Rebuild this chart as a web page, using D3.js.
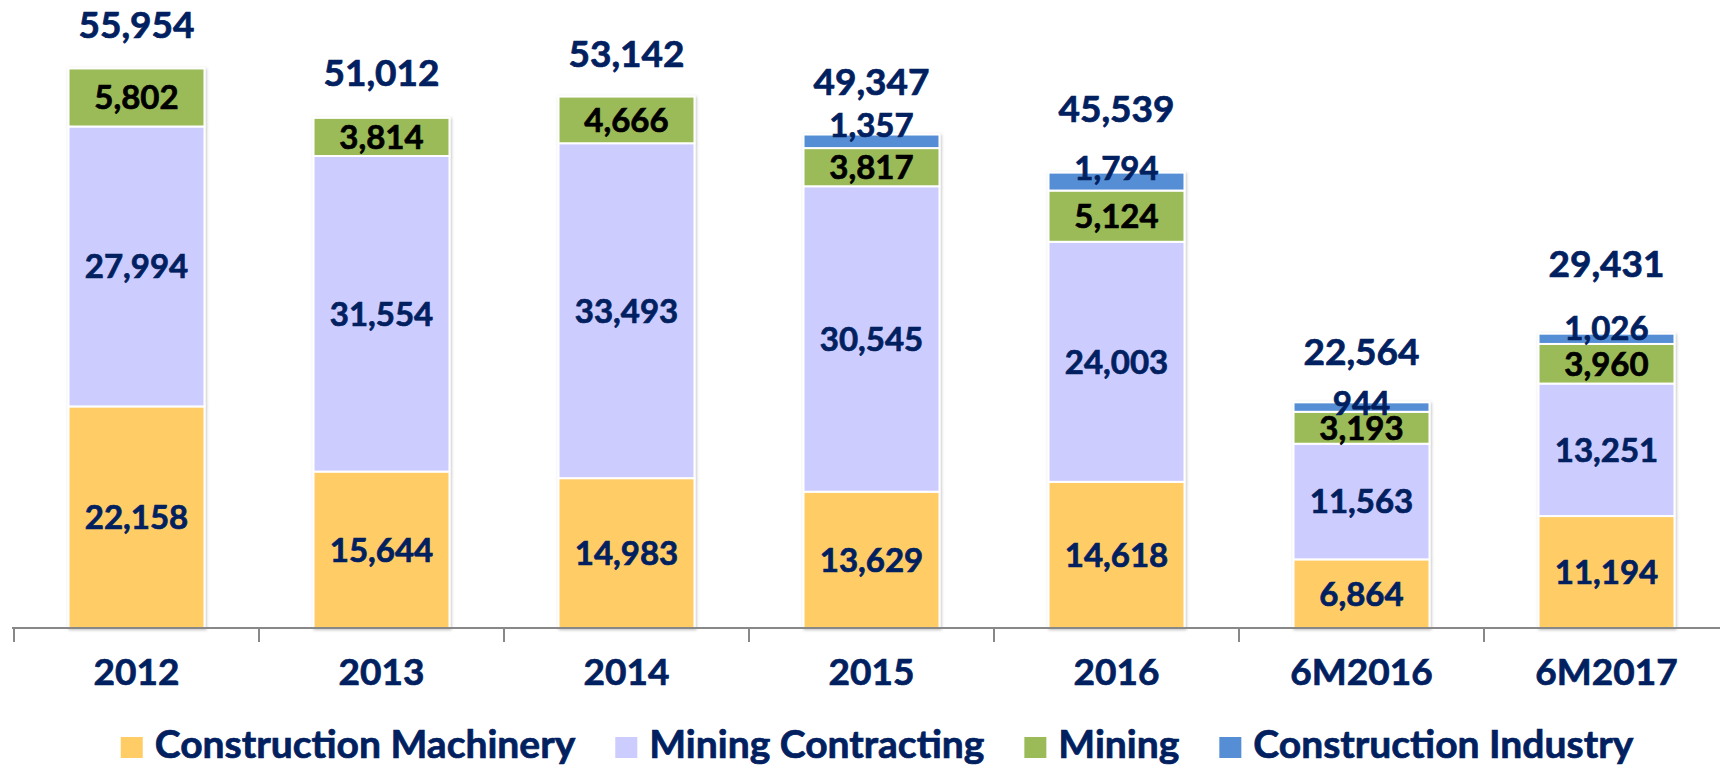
<!DOCTYPE html>
<html>
<head>
<meta charset="utf-8">
<script src="https://cdn.jsdelivr.net/npm/d3@7"></script>
<style>
  html, body { margin: 0; padding: 0; background: #fff; }
  svg { display: block; font-family: Lato, "Open Sans", sans-serif; font-weight: bold; }
  svg text { stroke-width: 0.7px; paint-order: stroke; }
</style>
</head>
<body>
<div id="chart"></div>
<script>
// data
const categories = ["2012", "2013", "2014", "2015", "2016", "6M2016", "6M2017"];
const constructionMachinery = [22158, 15644, 14983, 13629, 14618, 6864, 11194];
const miningContracting = [27994, 31554, 33493, 30545, 24003, 11563, 13251];
const mining = [5802, 3814, 4666, 3817, 5124, 3193, 3960];
const constructionIndustry = [0, 0, 0, 1357, 1794, 944, 1026];
const totals = [55954, 51012, 53142, 49347, 45539, 22564, 29431];

const seriesNames = ["Construction Machinery", "Mining Contracting", "Mining", "Construction Industry"];
const seriesColors = ["#FFCC66", "#CCCCFF", "#9BBB59", "#558ED5"];
const labelColors = ["#002060", "#002060", "#000000", "#002060"];

const W = 1720, H = 768;
const navy = "#002060";

// rows for d3.stack
const rows = categories.map((c, i) => ({
    cat: c,
    s0: constructionMachinery[i],
    s1: miningContracting[i],
    s2: mining[i],
    s3: constructionIndustry[i]
}));
const keys = ["s0", "s1", "s2", "s3"];
const stacked = d3.stack().keys(keys)(rows);

const svg = d3.select("#chart").append("svg")
    .attr("width", W)
    .attr("height", H);

const defs = svg.append("defs");
const shadow = defs.append("filter").attr("id", "shadow")
    .attr("x", "-10%").attr("y", "-10%").attr("width", "120%").attr("height", "120%");
shadow.append("feDropShadow")
    .attr("dx", 1).attr("dy", 1).attr("stdDeviation", 1.5)
    .attr("flood-color", "#000").attr("flood-opacity", 0.25);

// scales
const x = d3.scaleBand()
    .domain(categories)
    .range([14, 14 + 245 * categories.length])
    .paddingInner(0.445)
    .paddingOuter(0.2225);

const y = d3.scaleLinear()
    .domain([0, 60000])
    .range([628, 28]);

// bars
const bars = svg.append("g").attr("filter", "url(#shadow)");
stacked.forEach((layer, si) => {
    bars.append("g")
        .selectAll("rect")
        .data(layer.filter(d => d[1] > d[0]))
        .enter()
        .append("rect")
        .attr("x", d => x(d.data.cat))
        .attr("y", d => y(d[1]))
        .attr("width", x.bandwidth())
        .attr("height", d => y(d[0]) - y(d[1]))
        .style("fill", seriesColors[si])
        .style("stroke", "#fff")
        .style("stroke-width", 2);
});

// axis
const axisG = svg.append("g").attr("transform", `translate(0, ${y(0)})`);
axisG.append("line")
    .attr("x1", 12).attr("x2", W)
    .attr("stroke", "#888").attr("stroke-width", 2);
axisG.selectAll(".tick")
    .data(d3.range(categories.length + 1))
    .enter()
    .append("line")
    .attr("x1", i => x.step() * i + 14)
    .attr("x2", i => x.step() * i + 14)
    .attr("y1", 0).attr("y2", 14)
    .attr("stroke", "#888").attr("stroke-width", 2);
axisG.selectAll("text")
    .data(categories)
    .enter()
    .append("text")
    .attr("x", d => x(d) + x.bandwidth() / 2)
    .attr("y", 57)
    .attr("text-anchor", "middle")
    .style("font-size", "37px")
    .style("fill", navy)
    .style("stroke", navy)
    .text(d => d);

const fmt = d3.format(",");

// segment labels (first three series, centred in the segment)
stacked.slice(0, 3).forEach((layer, si) => {
    svg.append("g")
        .selectAll("text")
        .data(layer)
        .enter()
        .append("text")
        .attr("x", d => x(d.data.cat) + x.bandwidth() / 2)
        .attr("y", d => (y(d[0]) + y(d[1])) / 2)
        .attr("dy", "0.36em")
        .attr("text-anchor", "middle")
        .style("font-size", "33px")
        .style("fill", labelColors[si])
        .style("stroke", labelColors[si])
        .text(d => fmt(d[1] - d[0]));
});

// construction industry labels sit on top of the thin blue slice
const ciNudge = [0, 0, 0, 2, 7, 13, 6];
svg.append("g")
    .selectAll("text")
    .data(stacked[3].filter(d => d[1] > d[0]))
    .enter()
    .append("text")
    .attr("x", d => x(d.data.cat) + x.bandwidth() / 2)
    .attr("y", d => y(d[1]) + ciNudge[categories.indexOf(d.data.cat)])
    .attr("text-anchor", "middle")
    .style("font-size", "33px")
    .style("fill", labelColors[3])
    .style("stroke", labelColors[3])
    .text(d => fmt(d[1] - d[0]));

// totals above each bar
const totalLift = [30, 32, 30, 40, 51, 37, 57];
svg.append("g")
    .selectAll("text")
    .data(totals)
    .enter()
    .append("text")
    .attr("x", (d, i) => x(categories[i]) + x.bandwidth() / 2)
    .attr("y", (d, i) => y(d3.sum(keys, k => rows[i][k])) - totalLift[i])
    .attr("text-anchor", "middle")
    .style("font-size", "37px")
    .style("fill", navy)
    .style("stroke", navy)
    .text(d => fmt(d));

// legend
const legend = svg.append("g").attr("transform", "translate(0, 758)");
const items = legend.selectAll("g")
    .data(seriesNames)
    .enter()
    .append("g");
items.append("rect")
    .attr("y", -21)
    .attr("width", 22)
    .attr("height", 21)
    .style("fill", (d, i) => seriesColors[i]);
items.append("text")
    .attr("x", 34)
    .style("font-size", "39px")
    .style("fill", navy)
    .style("stroke", navy)
    .text(d => d);

let cursor = 0;
const offsets = [];
items.each(function () {
    offsets.push(cursor);
    const w = d3.select(this).select("text").node().getComputedTextLength();
    cursor += 34 + w + 40;
});
const legendWidth = cursor - 40;
const startX = 877 - legendWidth / 2;
items.attr("transform", (d, i) => `translate(${startX + offsets[i]}, 0)`);
</script>
</body>
</html>
